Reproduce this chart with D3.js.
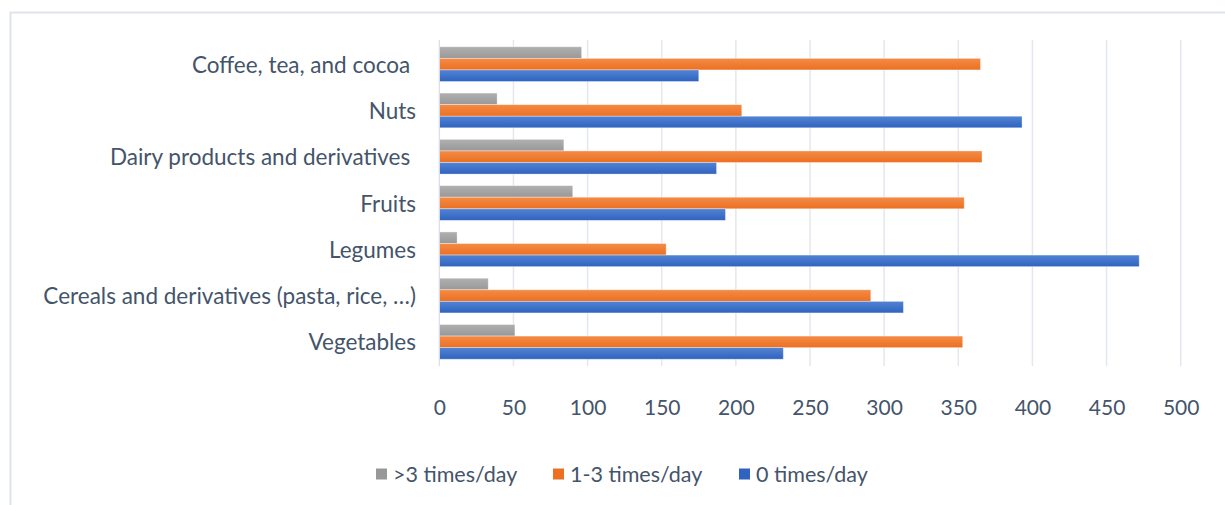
<!DOCTYPE html>
<html>
<head>
<meta charset="utf-8">
<script src="https://cdn.jsdelivr.net/npm/d3@7"></script>
<style>
  html, body { margin: 0; padding: 0; background: #fff; }
  svg { display: block; }
  text { font-family: Lato, "Open Sans", sans-serif; fill: #44546A; white-space: pre; }
</style>
</head>
<body>
<svg id="chart" width="1225" height="505"></svg>
<script>
const categories = ["Coffee, tea, and cocoa ", "Nuts", "Dairy products and derivatives ", "Fruits", "Legumes", "Cereals and derivatives (pasta, rice, \u2026)", "Vegetables"];
const seriesNames = [">3 times/day", "1-3 times/day", "0 times/day"];
const over3 = [96, 39, 84, 90, 12, 33, 51];
const oneToThree = [365, 204, 366, 354, 153, 291, 353];
const zero = [175, 393, 187, 193, 472, 313, 232];
const ticks = [0, 50, 100, 150, 200, 250, 300, 350, 400, 450, 500];
const seriesValues = [over3, oneToThree, zero];
const colors = [["#b0b0b0", "#989898"], ["#f58b45", "#eb7022"], ["#5283d4", "#3063bf"]];

const svg = d3.select("#chart");

// chart border
svg.append("rect").attr("x", 10.5).attr("y", 12.5).attr("width", 1230).attr("height", 510)
  .attr("fill", "#fff").attr("stroke", "#dfe4ec").attr("stroke-width", 2);

const defs = svg.append("defs");
colors.forEach((c, i) => {
  const g = defs.append("linearGradient").attr("id", "g" + i).attr("x1", 0).attr("y1", 0).attr("x2", 0).attr("y2", 1);
  g.append("stop").attr("offset", "0%").attr("stop-color", c[0]);
  g.append("stop").attr("offset", "100%").attr("stop-color", c[1]);
});

const x = d3.scaleLinear().domain([0, 500]).range([439.3, 1180.7]);
const y = d3.scaleBand().domain(categories).range([41, 365]).paddingInner(0.25).paddingOuter(0.125);
const ySub = d3.scaleBand().domain(seriesNames).range([0, y.bandwidth()]);

// gridlines
svg.append("g").selectAll("line").data(ticks.slice(1)).join("line")
  .attr("x1", d => x(d)).attr("x2", d => x(d)).attr("y1", 40).attr("y2", 366)
  .attr("stroke", "#e3e7ee").attr("stroke-width", 1.5);

// bars
const groups = svg.append("g").selectAll("g").data(categories).join("g")
  .attr("transform", d => `translate(0,${y(d)})`);
groups.each(function(cat, ci) {
  d3.select(this).selectAll("rect").data(seriesNames).join("rect")
    .attr("x", x(0))
    .attr("y", s => ySub(s))
    .attr("height", ySub.bandwidth())
    .attr("width", (s, si) => x(seriesValues[si][ci]) - x(0))
    .attr("fill", (s, si) => `url(#g${si})`)
    .attr("stroke", "rgba(255,255,255,0.45)").attr("stroke-width", 0.8);
});

// y axis line
svg.append("line").attr("x1", x(0)).attr("x2", x(0)).attr("y1", 40).attr("y2", 366)
  .attr("stroke", "#d9dee6").attr("stroke-width", 1.2);

// category labels
svg.append("g").selectAll("text").data(categories).join("text")
  .attr("x", 416).attr("y", d => y(d) + y.bandwidth() / 2)
  .attr("text-anchor", "end").attr("dominant-baseline", "central")
  .attr("font-size", 22.5).text(d => d);

// x tick labels
const xAxis = d3.axisBottom(x).tickValues(ticks).tickSize(0).tickPadding(0);
const ax = svg.append("g").attr("transform", "translate(0,406)").call(xAxis);
ax.select(".domain").remove();
ax.selectAll("text").attr("font-size", 21).attr("y", 0).attr("dy", null)
  .attr("dominant-baseline", "central")
  .style("font-family", "Lato, 'Open Sans', sans-serif").attr("fill", "#44546A");

// legend
const legendX = [376, 553, 739];
const lg = svg.append("g").selectAll("g").data(seriesNames).join("g")
  .attr("transform", (d, i) => `translate(${legendX[i]},474)`);
lg.append("rect").attr("x", 0).attr("y", -5.5).attr("width", 11).attr("height", 11)
  .attr("fill", (d, i) => colors[i][1]);
lg.append("text").attr("x", 17).attr("y", 0).attr("dominant-baseline", "central")
  .attr("font-size", 21.5).text(d => d);
</script>
</body>
</html>
